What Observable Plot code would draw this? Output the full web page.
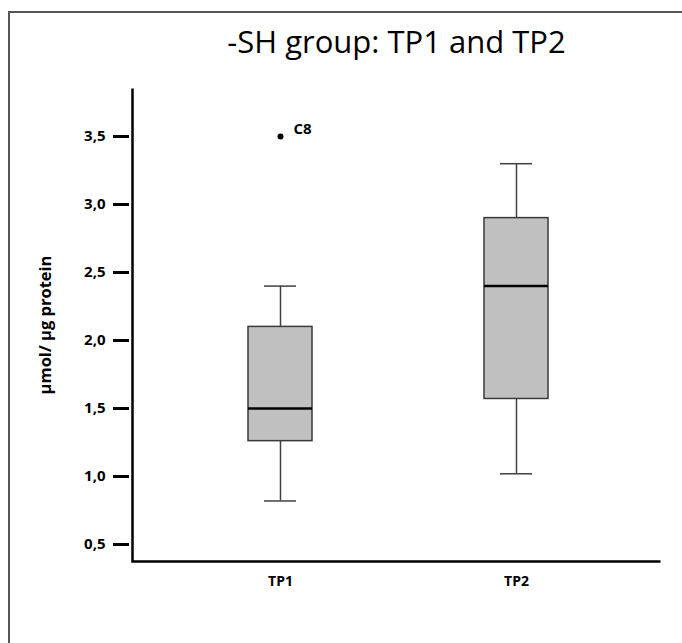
<!DOCTYPE html>
<html><head><meta charset="utf-8">
<script src="https://cdn.jsdelivr.net/npm/d3@7"></script>
<script src="https://cdn.jsdelivr.net/npm/@observablehq/plot@0.6"></script>
<style>
html,body{margin:0;padding:0;background:#fff;overflow:hidden;}
#wrap{position:relative;width:682px;height:643px;overflow:hidden;font-family:"Open Sans",sans-serif;background:#fff;}
#border{position:absolute;left:8px;top:11px;width:720px;height:720px;border-top:2px solid #555;border-left:2px solid #555;}
#wrap svg{position:absolute;left:0;top:0;}
</style></head><body>
<div id="wrap"><div id="border"></div></div>
<script>
const groups = ["TP1", "TP2"];
const whiskerLow = [0.82, 1.02];
const q1 = [1.26, 1.57];
const median = [1.5, 2.4];
const q3 = [2.1, 2.9];
const whiskerHigh = [2.4, 3.3];
const outlierGroup = ["TP1"];
const outlierValue = [3.5];
const outlierLabel = ["C8"];
const yTicks = [0.5, 1.0, 1.5, 2.0, 2.5, 3.0, 3.5];
const title = "-SH group: TP1 and TP2";
const yLabel = "µmol/ µg protein";

const stats = groups.map((g, i) => ({group: g, low: whiskerLow[i], q1: q1[i], median: median[i], q3: q3[i], high: whiskerHigh[i]}));
const outliers = outlierGroup.map((g, i) => ({group: g, value: outlierValue[i], label: outlierLabel[i]}));

const W = 682, H = 643, mL = 132, mR = 22, mT = 88, mB = 82;
const fw = W - mL - mR, fh = H - mT - mB;
const fmt = d => d3.format(".1f")(d).replace(".", ",");

const chart = Plot.plot({
  width: W, height: H,
  marginLeft: mL, marginRight: mR, marginTop: mT, marginBottom: mB,
  style: {fontFamily: "'Open Sans', sans-serif", fontSize: "15px", background: "transparent", overflow: "visible"},
  x: {domain: groups, paddingInner: 0.729, paddingOuter: 0.483, align: 0.51, label: null},
  y: {domain: [0.375, 3.853], label: null},
  marks: [
    Plot.frame({stroke: "#000", strokeWidth: 2.5, strokeDasharray: `0 ${fw + fh} ${fw + fh}`}),
    Plot.axisY(yTicks, {tickSize: 16, tickPadding: 8, dx: -3, tickFormat: fmt, fontWeight: "bold", fontSize: 15, strokeWidth: 3, stroke: "#000", fill: "#000", label: null}),
    Plot.axisX({tickSize: 0, tickPadding: 15, fontWeight: "bold", fontSize: 14, fill: "#000", label: null}),
    Plot.ruleX(stats, {x: "group", y1: "q3", y2: "high", stroke: "#404040", strokeWidth: 1.5}),
    Plot.ruleX(stats, {x: "group", y1: "low", y2: "q1", stroke: "#404040", strokeWidth: 1.5}),
    Plot.tickY(stats, {x: "group", y: "high", insetLeft: 16, insetRight: 16, stroke: "#404040", strokeWidth: 1.5}),
    Plot.tickY(stats, {x: "group", y: "low", insetLeft: 16, insetRight: 16, stroke: "#404040", strokeWidth: 1.5}),
    Plot.barY(stats, {x: "group", y1: "q1", y2: "q3", fill: "#c0c0c0", stroke: "#3a3a3a", strokeWidth: 1.5}),
    Plot.tickY(stats, {x: "group", y: "median", stroke: "#000", strokeWidth: 2.5}),
    Plot.dot(outliers, {x: "group", y: "value", r: 3, fill: "#000", stroke: null}),
    Plot.text(outliers, {x: "group", y: "value", text: "label", dx: 13, dy: -7, textAnchor: "start", fontWeight: "bold", fontSize: 15, fill: "#000"}),
    Plot.text([title], {text: d => d, frameAnchor: "top", dy: -45, fontSize: 31, fill: "#000", lineAnchor: "middle", textAnchor: "middle"}),
    Plot.text([yLabel], {text: d => d, frameAnchor: "left", rotate: -90, dx: -87, fontWeight: "bold", fontSize: 16.5, fill: "#000", textAnchor: "middle", lineAnchor: "middle"})
  ]
});
document.getElementById("wrap").appendChild(chart);
</script>
</body></html>
